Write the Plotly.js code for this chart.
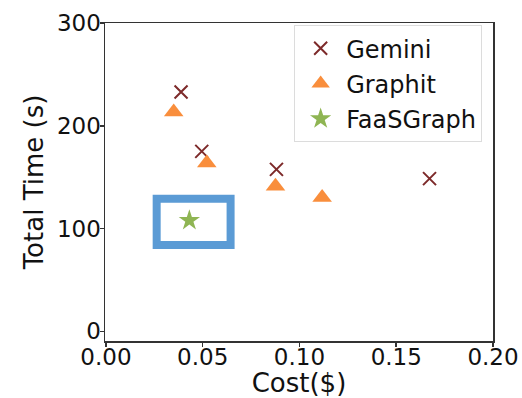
<!DOCTYPE html>
<html>
<head>
<meta charset="utf-8">
<script src="https://cdn.plot.ly/plotly-3.0.1.min.js"></script>
<style>html,body{margin:0;padding:0;background:#fff;}#chart{width:522px;height:398px;}</style>
</head>
<body>
<div id="chart"></div>
<script>
// Data
const seriesNames = ["Gemini", "Graphit", "FaaSGraph"];
const geminiCost = [0.0388, 0.0495, 0.0881, 0.1672];
const geminiTime = [232.9, 175.1, 157.6, 148.6];
const graphitCost = [0.0350, 0.0521, 0.0876, 0.1117];
const graphitTime = [213.4, 163.8, 141.1, 130.1];
const faasCost = [0.0431];
const faasTime = [108.0];
// Highlight box around FaaSGraph (data coordinates)
const highlightCost = [0.0262, 0.0644];
const highlightTime = [84.0, 129.1];
const xTickVals = [0, 0.05, 0.10, 0.15, 0.20];
const xTickText = ["0.00", "0.05", "0.10", "0.15", "0.20"];
const yTickVals = [0, 100, 200, 300];

const FONT = "DejaVu Sans, Verdana, sans-serif";

const traces = [
  {
    x: geminiCost, y: geminiTime, name: seriesNames[0], type: "scatter", mode: "markers",
    legendgroup: "a",
    marker: {symbol: "x-thin-open", size: 13, color: "#7d2a2a", line: {color: "#7d2a2a", width: 2}}
  },
  {
    x: graphitCost, y: graphitTime, name: seriesNames[1], type: "scatter", mode: "markers",
    legendgroup: "b",
    marker: {symbol: "triangle-up", size: 17, color: "#f98e3c", line: {width: 0}}
  },
  {
    x: faasCost, y: faasTime, name: seriesNames[2], type: "scatter", mode: "markers",
    legendgroup: "c",
    marker: {symbol: "star", size: 16, color: "#8fb553", line: {width: 0}}
  }
];

const axisCommon = {
  showgrid: false, zeroline: false,
  showline: true, mirror: true, linecolor: "#333", linewidth: 1.5,
  ticks: "outside", ticklen: 4, tickwidth: 1.5, tickcolor: "#333",
  tickfont: {family: FONT, size: 23, color: "#111"}
};

const layout = {
  width: 522, height: 398,
  margin: {l: 105, r: 29.3, t: 22.7, b: 57.3},
  paper_bgcolor: "#fff", plot_bgcolor: "#fff",
  showlegend: true,
  xaxis: Object.assign({}, axisCommon, {
    range: [-0.0005, 0.2],
    tickvals: xTickVals, ticktext: xTickText,
    ticklabelstandoff: -9,
    title: {text: "Cost($)", font: {family: FONT, size: 26, color: "#111"}, standoff: 3}
  }),
  yaxis: Object.assign({}, axisCommon, {
    range: [-9.4, 300],
    tickvals: yTickVals,
    ticklabelstandoff: -6,
    title: {text: "Total Time (s)", font: {family: FONT, size: 26, color: "#111"}, standoff: 6}
  }),
  legend: {
    x: 0.4875, xanchor: "left", y: 0.993, yanchor: "top",
    bgcolor: "#fff", bordercolor: "#dcdcdc", borderwidth: 1,
    font: {family: FONT, size: 24, color: "#111"},
    itemwidth: 41,
    traceorder: "grouped", tracegroupgap: 1
  },
  shapes: [{
    type: "rect", xref: "x", yref: "y",
    x0: highlightCost[0], x1: highlightCost[1],
    y0: highlightTime[0], y1: highlightTime[1],
    line: {color: "#5b9bd5", width: 8}, fillcolor: "rgba(0,0,0,0)", layer: "above"
  }]
};

Plotly.newPlot("chart", traces, layout, {displayModeBar: false, staticPlot: true});
</script>
</body>
</html>
